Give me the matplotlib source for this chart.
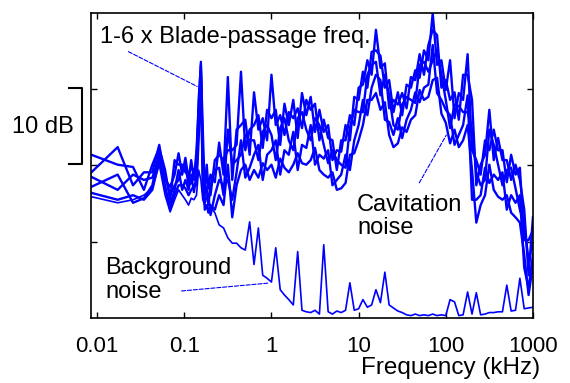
"""Cavitation vs background noise spectra, log frequency axis."""
import matplotlib
matplotlib.use("Agg")
import matplotlib.pyplot as plt
from matplotlib.ticker import FixedLocator, FixedFormatter, NullLocator
import matplotlib.transforms as mtransforms

plt.rcParams["font.family"] = ["Liberation Sans", "DejaVu Sans"]

BLUE = "#0000ff"

# frequency bins (kHz)
freq_khz = [0.0086, 0.0172, 0.0258, 0.0344, 0.043, 0.0516, 0.0602, 0.0688, 0.0774, 0.086,
            0.0946, 0.103, 0.112, 0.12, 0.129, 0.138, 0.146, 0.155, 0.163, 0.172, 0.181, 0.189,
            0.2, 0.224, 0.251, 0.282, 0.316, 0.355, 0.398, 0.447, 0.501, 0.562, 0.631, 0.708,
            0.794, 0.891, 1.0, 1.12, 1.26, 1.41, 1.58, 1.78, 2.0, 2.24, 2.51, 2.82, 3.16, 3.55,
            3.98, 4.47, 5.01, 5.62, 6.31, 7.08, 7.94, 8.91, 10, 11.2, 12.6, 14.1, 15.8, 17.8,
            20, 22.4, 25.1, 28.2, 31.6, 35.5, 39.8, 44.7, 50.1, 56.2, 63.1, 70.8, 79.4, 89.1,
            100, 112, 126, 141, 158, 178, 200, 224, 251, 282, 316, 355, 398, 447, 501, 562,
            631, 708, 794, 891, 1000]

# cavitation runs (relative dB)
cav_1 = [21.4, 20.1, 19.8, 16.8, 20.1, 22.3, 19.4, 15.5, 20.7, 20.1, 20.1, 19.1, 18.8, 19.7, 19.4,
         19.7, 28.6, 33.2, 24.7, 16.1, 20.1, 17.0, 18.8, 17.8, 23.0, 18.8, 31.6, 18.1, 24.7, 25.3,
         26.0, 21.4, 29.6, 24.7, 26.2, 23.3, 31.9, 25.3, 26.6, 24.0, 27.0, 26.2, 27.5, 24.9, 28.6,
         27.3, 28.1, 23.3, 26.0, 23.6, 23.3, 19.4, 23.3, 23.3, 26.6, 25.3, 30.2, 30.6, 33.8, 31.9,
         37.8, 32.8, 33.4, 27.5, 28.6, 28.0, 29.5, 27.5, 31.6, 31.2, 34.6, 31.9, 35.8, 37.8, 37.1,
         30.2, 31.2, 28.6, 29.6, 26.0, 31.9, 31.9, 28.6, 17.4, 20.1, 21.4, 27.3, 20.7, 23.6, 20.7,
         20.7, 18.1, 20.1, 18.1, 14.2, 5.6, 13.2]
cav_2 = [19.1, 22.4, 17.4, 19.1, 19.1, 22.7, 18.1, 17.2, 18.8, 21.6, 18.8, 21.0, 18.1, 20.7, 18.1,
         22.0, 27.3, 33.6, 20.1, 18.8, 18.1, 18.1, 16.1, 20.7, 21.4, 20.7, 22.0, 22.0, 22.7, 32.3,
         22.0, 24.7, 25.3, 26.6, 22.3, 27.3, 26.2, 27.3, 22.7, 28.1, 25.3, 28.6, 23.6, 29.5, 26.6,
         29.0, 24.4, 27.3, 24.4, 25.3, 20.7, 22.0, 21.8, 25.3, 23.3, 29.0, 28.6, 32.3, 30.2, 34.9,
         35.1, 34.4, 30.2, 31.2, 27.0, 29.6, 26.6, 30.6, 30.2, 32.5, 31.5, 35.1, 33.8, 40.0, 33.2,
         33.8, 29.9, 33.8, 26.2, 29.5, 28.6, 34.6, 22.0, 20.7, 18.8, 23.3, 22.0, 24.7, 22.0, 22.0,
         17.8, 21.4, 18.8, 19.7, 10.2, 10.2, 11.5]
cav_3 = [18.5, 16.8, 18.8, 18.1, 18.4, 21.2, 18.8, 16.1, 17.4, 18.1, 19.4, 20.1, 17.4, 17.7, 18.8,
         20.7, 26.6, 31.9, 22.0, 17.4, 17.0, 14.8, 17.4, 19.4, 19.7, 16.1, 24.7, 20.1, 20.7, 21.4,
         24.0, 23.3, 23.3, 20.7, 24.4, 25.3, 24.0, 20.7, 24.9, 26.2, 23.3, 22.0, 26.2, 27.0, 24.7,
         23.3, 26.2, 25.3, 22.7, 20.3, 22.0, 20.7, 20.1, 19.7, 24.9, 27.3, 27.0, 27.0, 31.9, 33.2,
         33.6, 29.2, 31.9, 29.2, 25.3, 24.7, 28.0, 29.0, 28.6, 28.2, 33.2, 33.6, 32.3, 33.8, 35.1,
         31.9, 28.6, 24.9, 28.0, 27.8, 27.0, 27.0, 24.7, 19.1, 17.4, 18.1, 24.7, 22.7, 20.1, 17.4,
         19.4, 19.7, 17.0, 14.2, 12.2, 7.6, 9.6]
cav_4 = [17.2, 18.8, 15.1, 15.7, 17.4, 21.8, 16.8, 14.8, 16.8, 19.4, 16.8, 18.1, 16.8, 18.8, 16.5,
         18.8, 25.3, 32.5, 16.8, 15.1, 16.0, 16.1, 13.5, 16.1, 18.1, 17.4, 18.1, 15.5, 19.1, 23.3,
         18.4, 19.7, 21.4, 22.7, 18.1, 21.4, 22.0, 23.3, 18.8, 22.0, 21.4, 24.4, 19.4, 22.7, 22.3,
         25.3, 20.1, 21.4, 20.9, 22.0, 17.4, 18.1, 18.8, 21.4, 19.4, 23.3, 25.3, 28.6, 26.6, 30.2,
         31.9, 31.2, 26.0, 25.7, 24.0, 26.2, 23.6, 26.0, 27.3, 29.6, 28.3, 30.2, 30.6, 35.8, 29.5,
         28.6, 27.3, 26.6, 22.7, 24.0, 25.3, 29.2, 15.5, 15.5, 16.1, 19.7, 17.7, 18.8, 18.1, 19.1,
         14.2, 16.1, 15.1, 16.1, 6.6, 3.9, 8.3]
cav_5 = [16.4, 15.5, 16.1, 15.5, 16.8, 20.7, 17.4, 14.2, 16.1, 17.4, 17.4, 17.0, 16.1, 16.8, 17.3,
         17.4, 23.3, 31.2, 18.8, 14.2, 14.8, 13.8, 14.8, 14.2, 16.1, 14.8, 20.1, 13.2, 17.4, 19.4,
         20.1, 18.1, 19.4, 18.4, 20.3, 19.4, 20.1, 18.4, 20.9, 19.7, 19.1, 20.1, 21.6, 20.3, 20.1,
         20.7, 22.3, 19.4, 18.8, 18.4, 19.1, 16.8, 17.0, 17.7, 21.4, 21.6, 23.3, 25.3, 28.6, 28.6,
         29.5, 27.3, 28.3, 24.0, 22.4, 22.9, 25.0, 24.4, 26.0, 26.6, 29.9, 28.6, 29.0, 31.2, 31.5,
         26.8, 25.6, 22.9, 24.7, 22.4, 23.3, 25.3, 19.4, 12.5, 14.8, 16.1, 20.1, 16.8, 15.9, 15.5,
         16.1, 13.8, 13.2, 12.5, 8.3, 3.0, 7.0]
# background (pump running, no cavitation)
background = [15.9, 15.1, 15.5, 16.1, 17.0, 20.1, 16.1, 13.9, 15.5, 16.8, 16.1, 15.5, 14.8, 15.7,
              15.5, 16.1, 19.4, 18.1, 15.5, 14.8, 14.5, 14.2, 14.5, 13.8, 12.2, 11.8, 10.5, 9.8,
              9.8, 9.2, 8.9, 12.6, 7.0, 11.8, 5.6, 5.2, 4.7, 9.2, 3.7, 3.0, 2.4, 1.7, 8.7, 1.0,
              0.8, 0.7, 1.0, 0.5, 9.6, 0.8, 0.5, 0.9, 0.7, 1.0, 4.6, 1.0, 1.2, 2.4, 1.4, 1.7, 3.7,
              2.0, 6.0, 1.7, 1.3, 0.9, 0.7, 0.4, 0.3, 0.5, 0.3, 0.4, 0.3, 0.5, 0.3, 0.4, 0.3, 2.4,
              2.1, 0.3, 0.4, 3.4, 0.5, 3.3, 0.4, 0.5, 0.7, 0.7, 0.8, 0.8, 4.3, 0.9, 1.0, 5.2, 1.2,
              1.3, 1.4]

xtick_vals = [0.01, 0.1, 1, 10, 100, 1000]
xtick_labels = ["0.01", "0.1", "1", "10", "100", "1000"]
ytick_vals = [10, 20, 30]

fig = plt.figure(figsize=(5.7, 3.83), dpi=100)
ax = fig.add_axes([0.1596, 0.170, 0.7754, 0.796])

for series in (cav_1, cav_2, cav_3, cav_4, cav_5):
    ax.plot(freq_khz, series, color=BLUE, lw=1.7)
ax.plot(freq_khz, background, color=BLUE, lw=1.2)

ax.set_xscale("log")
ax.set_xlim(0.0085, 1000)
ax.set_ylim(0, 40)
ax.xaxis.set_major_locator(FixedLocator(xtick_vals))
ax.xaxis.set_major_formatter(FixedFormatter(xtick_labels))
ax.xaxis.set_minor_locator(NullLocator())
ax.yaxis.set_major_locator(FixedLocator(ytick_vals))
ax.set_yticklabels([])
ax.tick_params(which="both", direction="in", top=True, right=True,
               length=4, width=1, labelsize=16, pad=13)
for s in ax.spines.values():
    s.set_linewidth(1.2)

ax.set_xlabel("Frequency (kHz)", fontsize=17.5)
ax.xaxis.set_label_coords(0.8145, -0.128)

# annotations
ax.text(0.0108, 36.1, "1-6 x Blade-passage freq.", fontsize=17, va="baseline")
ax.annotate("", xy=(0.150, 30.2), xytext=(0.0214, 35.1),
            arrowprops=dict(arrowstyle="-", color=BLUE, lw=0.8, ls="--"))
ax.text(9.6, 16.3, "Cavitation\nnoise", fontsize=17, va="top", linespacing=1.05)
ax.annotate("", xy=(105, 24.3), xytext=(47.9, 17.4),
            arrowprops=dict(arrowstyle="-", color=BLUE, lw=0.8, ls="--"))
ax.text(0.01234, 8.0, "Background\nnoise", fontsize=17, va="top", linespacing=1.1)
ax.annotate("", xy=(1.0, 4.6), xytext=(0.0865, 3.5),
            arrowprops=dict(arrowstyle="-", color=BLUE, lw=0.8, ls="--"))

# 10 dB scale bracket
trans = mtransforms.blended_transform_factory(ax.transAxes, ax.transData)
ax.plot([-0.050, -0.020, -0.020, -0.050], [30.2, 30.2, 20.2, 20.2],
        color="black", lw=1.5, transform=trans, clip_on=False)
fig.text(12 / 570, 1 - 127 / 383, "10 dB", fontsize=17, va="center", ha="left")

fig.savefig("out.png", dpi=100)
